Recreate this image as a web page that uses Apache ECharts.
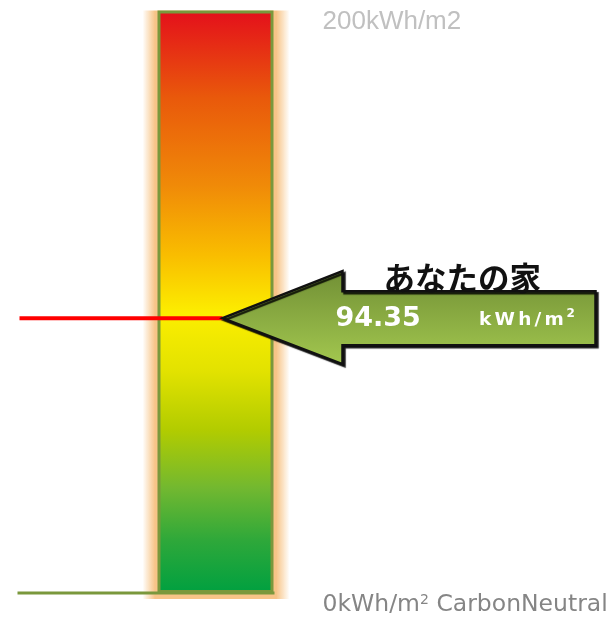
<!DOCTYPE html>
<html>
<head>
<meta charset="utf-8">
<script src="https://cdn.jsdelivr.net/npm/echarts@6/dist/echarts.min.js"></script>
<style>
  html, body { margin: 0; padding: 0; background: #fff; }
  #chart { width: 614px; height: 617px; }
</style>
</head>
<body>
<div id="chart"></div>
<script>
// データ
var categories = ['あなたの家'];
var barValues = [200];          // スケール全体 (0〜200)
var homeValues = [94.35];       // あなたの家
var axisMin = 0;
var axisMax = 200;
var tickLabels = { 0: '0kWh/m', 200: '200kWh/m2' };
var unitChars = ['k', 'W', 'h', '/', 'm'];

// グラデーション (上: 赤 → 下: 緑)
var barGradient = new echarts.graphic.LinearGradient(0, 0, 0, 1, [
  { offset: 0, color: '#e40f1b' },
  { offset: 0.15, color: '#e9590b' },
  { offset: 0.3, color: '#f08a08' },
  { offset: 0.42, color: '#f9bd00' },
  { offset: 0.52, color: '#fcee00' },
  { offset: 0.62, color: '#e2e200' },
  { offset: 0.72, color: '#b2cc00' },
  { offset: 0.82, color: '#72b830' },
  { offset: 0.91, color: '#2ea83a' },
  { offset: 1, color: '#00a040' }
]);

var chart = echarts.init(document.getElementById('chart'));

/** バーの外側のぼかし */
function renderGlow(params, api) {
  var top = api.coord([api.value(0), axisMax]);
  var bot = api.coord([api.value(0), axisMin]);
  var band = api.size([1, 0])[0];
  return {
    type: 'rect',
    shape: { x: top[0] - band / 2 - 15, y: top[1], width: band + 31, height: bot[1] - top[1] + 6 },
    style: {
      fill: new echarts.graphic.LinearGradient(0, 0, 1, 0, [
        { offset: 0, color: 'rgba(248,196,130,0)' },
        { offset: 0.085, color: '#f7c488' },
        { offset: 0.5, color: '#f7c488' },
        { offset: 0.91, color: '#f7c488' },
        { offset: 1, color: 'rgba(248,196,130,0)' }
      ])
    }
  };
}

/** 矢印・赤線・ベースライン */
function renderMarker(params, api) {
  var val = api.value(1);
  var p = api.coord([api.value(0), val]);
  var bot = api.coord([api.value(0), axisMin]);
  var band = api.size([1, 0])[0];
  var tipX = p[0] + 7;
  var y = p[1];

  var unitText = '';
  for (var i = 0; i < unitChars.length; i++) unitText += '{c|' + unitChars[i] + '}';
  unitText += '{s|2}';

  return {
    type: 'group',
    children: [
      {
        type: 'line',
        shape: { x1: p[0] - band / 2 - 140, y1: bot[1], x2: p[0] + band / 2 + 1, y2: bot[1] },
        style: { stroke: '#7a983c', lineWidth: 3 }
      },
      {
        type: 'line',
        shape: { x1: p[0] - 196, y1: y, x2: tipX, y2: y },
        style: { stroke: '#ff0000', lineWidth: 4 }
      },
      {
        type: 'polygon',
        shape: {
          points: [
            [tipX, y],
            [tipX + 120, y - 47],
            [tipX + 120, y - 27],
            [tipX + 373, y - 27],
            [tipX + 373, y + 27],
            [tipX + 120, y + 27],
            [tipX + 120, y + 46]
          ]
        },
        style: {
          fill: new echarts.graphic.LinearGradient(0, 0, 0, 1, [
            { offset: 0, color: '#718f35' },
            { offset: 1, color: '#a3c84f' }
          ]),
          stroke: '#111',
          lineWidth: 2.5,
          lineJoin: 'miter',
          shadowColor: 'rgba(0,0,0,0.85)',
          shadowOffsetX: 2,
          shadowOffsetY: 2,
          shadowBlur: 1
        }
      },
      {
        type: 'text',
        style: {
          text: categories[params.dataIndex],
          x: tipX + 161, y: y - 40,
          verticalAlign: 'middle',
          fill: '#111',
          font: 'bold 31.5px "Noto Sans CJK JP"'
        }
      },
      {
        type: 'text',
        style: {
          text: val.toFixed(2),
          x: tipX + 113, y: y + 1,
          verticalAlign: 'middle',
          fill: '#fff',
          font: 'bold 27px "DejaVu Sans"'
        }
      },
      {
        type: 'text',
        style: {
          text: unitText,
          x: tipX + 255, y: y + 2,
          verticalAlign: 'middle',
          rich: {
            c: { fill: '#fff', fontSize: 18.5, fontWeight: 'bold', fontFamily: 'DejaVu Sans', padding: [0, 1.6, 0, 1.6], lineHeight: 24 },
            s: { fill: '#fff', fontSize: 12, fontWeight: 'bold', fontFamily: 'DejaVu Sans', verticalAlign: 'top', lineHeight: 24, padding: [0, 0, 7, 1] }
          }
        }
      }
    ]
  };
}

var option = {
  animation: false,
  grid: { left: 157.5, top: 10.5, width: 116, bottom: 24 },
  xAxis: {
    type: 'category',
    data: categories,
    show: false
  },
  yAxis: {
    type: 'value',
    position: 'right',
    min: axisMin,
    max: axisMax,
    interval: 200,
    axisLine: { show: false },
    axisTick: { show: false },
    splitLine: { show: false },
    axisLabel: {
      margin: 49,
      verticalAlign: 'top',
      formatter: function(v) {
        if (v === axisMax) return '{top|' + tickLabels[200] + '}';
        return '{low|' + tickLabels[0] + '}{sup|2}{low| CarbonNeutral}';
      },
      rich: {
        top: { color: '#c0c0c0', fontSize: 26, fontFamily: 'Liberation Sans', lineHeight: 22 },
        low: { color: '#858585', fontSize: 23.5, fontFamily: 'DejaVu Sans', lineHeight: 24 },
        sup: { color: '#858585', fontSize: 14, fontFamily: 'DejaVu Sans', verticalAlign: 'top', lineHeight: 24, padding: [0, 0, 10, 0] }
      }
    }
  },
  series: [
    {
      type: 'custom',
      z: 1,
      silent: true,
      renderItem: renderGlow,
      data: [[0, axisMax]]
    },
    {
      type: 'bar',
      z: 2,
      barWidth: '100%',
      data: barValues,
      itemStyle: {
        color: barGradient,
        borderColor: '#7a983c',
        borderWidth: 3
      }
    },
    {
      type: 'custom',
      z: 5,
      renderItem: renderMarker,
      data: homeValues.map(function(v, i) { return [i, v]; })
    }
  ]
};

chart.setOption(option);
</script>
</body>
</html>
